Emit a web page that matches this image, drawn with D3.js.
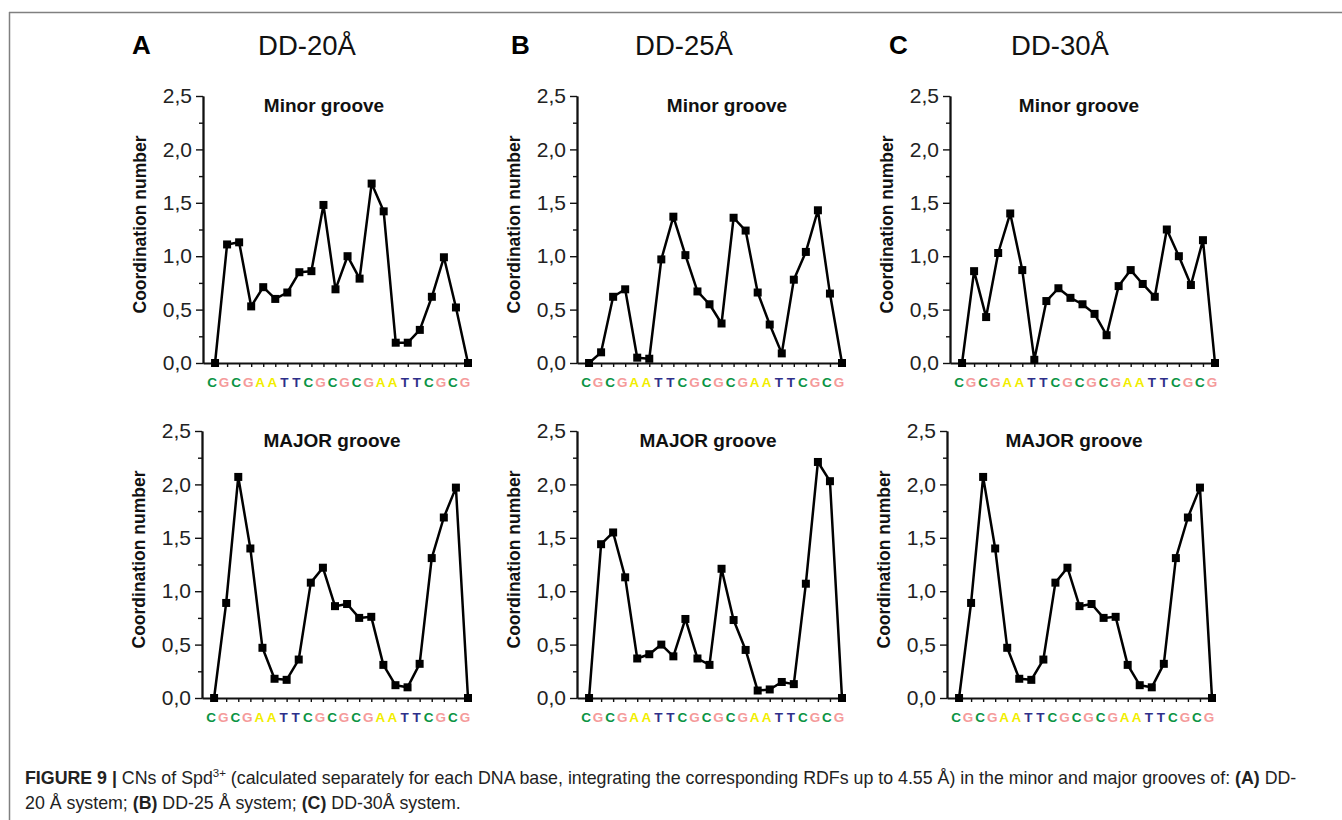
<!DOCTYPE html>
<html>
<head>
<meta charset="utf-8">
<script src="https://cdn.jsdelivr.net/npm/d3@7"></script>
<style>
  body { margin: 0; background: #fff; }
  svg { display: block; font-family: "Liberation Sans", Arial, sans-serif; }
</style>
</head>
<body>
<svg id="fig" width="1342" height="820"></svg>
<script>
// DNA sequence under every panel
const bases = ["C","G","C","G","A","A","T","T","C","G","C","G","C","G","A","A","T","T","C","G","C","G"];
const baseColor = { C: "#0a9444", G: "#f59a9a", A: "#f2ee00", T: "#2e2f8a" };

const yMajorTicks = [0, 0.5, 1.0, 1.5, 2.0, 2.5];
const yMinorTicks = [0.25, 0.75, 1.25, 1.75, 2.25];

// coordination numbers per base
const minor20 = [0.0, 1.11, 1.13, 0.53, 0.71, 0.60, 0.66, 0.85, 0.86, 1.48, 0.69, 1.00, 0.79, 1.68, 1.42, 0.19, 0.19, 0.31, 0.62, 0.99, 0.52, 0.0];
const major20 = [0.0, 0.89, 2.07, 1.40, 0.47, 0.18, 0.17, 0.36, 1.08, 1.22, 0.86, 0.88, 0.75, 0.76, 0.31, 0.12, 0.10, 0.32, 1.31, 1.69, 1.97, 0.0];
const minor25 = [0.0, 0.10, 0.62, 0.69, 0.05, 0.04, 0.97, 1.37, 1.01, 0.67, 0.55, 0.37, 1.36, 1.24, 0.66, 0.36, 0.09, 0.78, 1.04, 1.43, 0.65, 0.0];
const major25 = [0.0, 1.44, 1.55, 1.13, 0.37, 0.41, 0.50, 0.39, 0.74, 0.37, 0.31, 1.21, 0.73, 0.45, 0.07, 0.08, 0.15, 0.13, 1.07, 2.21, 2.03, 0.0];
const minor30 = [0.0, 0.86, 0.43, 1.03, 1.40, 0.87, 0.03, 0.58, 0.70, 0.61, 0.55, 0.46, 0.26, 0.72, 0.87, 0.74, 0.62, 1.25, 1.00, 0.73, 1.15, 0.0];
const major30 = [0.0, 0.89, 2.07, 1.40, 0.47, 0.18, 0.17, 0.36, 1.08, 1.22, 0.86, 0.88, 0.75, 0.76, 0.31, 0.12, 0.10, 0.32, 1.31, 1.69, 1.97, 0.0];

const columnLetters = ["A", "B", "C"];
const columnTitles = ["DD-20Å", "DD-25Å", "DD-30Å"];

const svg = d3.select("#fig");

// frame lines of the figure
svg.append("line").attr("x1", 9).attr("x2", 1342).attr("y1", 12.5).attr("y2", 12.5)
    .attr("stroke", "#808080").attr("stroke-width", 1.5);
svg.append("line").attr("x1", 9.5).attr("x2", 9.5).attr("y1", 12).attr("y2", 820)
    .attr("stroke", "#808080").attr("stroke-width", 1.5);

// layout of the six plots
let plots = [
    { data: minor20, title: "Minor groove", left: 203, right: 468, top: 96, bottom: 363, titleX: 324 },
    { data: major20, title: "MAJOR groove", left: 202, right: 468, top: 431, bottom: 698, titleX: 332 },
    { data: minor25, title: "Minor groove", left: 577, right: 842, top: 96, bottom: 363, titleX: 727 },
    { data: major25, title: "MAJOR groove", left: 577, right: 842, top: 431, bottom: 698, titleX: 708 },
    { data: minor30, title: "Minor groove", left: 950, right: 1215, top: 96, bottom: 363, titleX: 1079 },
    { data: major30, title: "MAJOR groove", left: 947, right: 1212, top: 431, bottom: 698, titleX: 1074 }
];

let colX = [{ letter: 132, title: 307 }, { letter: 511, title: 684 }, { letter: 889, title: 1060 }];
columnLetters.forEach(function(l, i) {
    svg.append("text").attr("x", colX[i].letter).attr("y", 54)
        .attr("font-size", 26).attr("font-weight", "bold").text(l);
    svg.append("text").attr("x", colX[i].title).attr("y", 55)
        .attr("text-anchor", "middle").attr("font-size", 27.5).attr("fill", "#111").text(columnTitles[i]);
});

plots.forEach(function(p) {
    let x = d3.scaleLinear().domain([-1, bases.length - 1]).range([p.left, p.right]);
    let y = d3.scaleLinear().domain([0, 2.5]).range([p.bottom, p.top]);
    let g = svg.append("g");

    // y axis, major and minor ticks
    let ya = g.append("g").attr("transform", `translate(${p.left},0)`)
        .call(d3.axisLeft(y).tickValues(yMajorTicks).tickSize(7).tickSizeOuter(0).tickPadding(4)
            .tickFormat(d => d3.format(".1f")(d).replace(".", ",")));
    g.append("g").attr("transform", `translate(${p.left},0)`)
        .call(d3.axisLeft(y).tickValues(yMinorTicks).tickSize(4).tickSizeOuter(0).tickFormat(""));

    // x axis, one tick per base
    g.append("g").attr("transform", `translate(0,${p.bottom})`)
        .call(d3.axisBottom(x).tickValues(d3.range(bases.length)).tickSize(4).tickSizeOuter(0).tickFormat(""));

    g.selectAll(".domain").attr("stroke", "#111").attr("stroke-width", 1.8);
    g.selectAll(".tick line").attr("stroke", "#111").attr("stroke-width", 1.4);
    ya.selectAll(".tick text").attr("font-size", 21).attr("fill", "#222")
        .attr("font-family", "Liberation Sans, Arial, sans-serif");

    // base letters
    g.selectAll(".base").data(bases).enter().append("text")
        .attr("x", (d, i) => x(i) - 3)
        .attr("y", p.bottom + 24)
        .attr("text-anchor", "middle")
        .attr("font-size", 13.5).attr("font-weight", "bold")
        .attr("fill", d => baseColor[d])
        .text(d => d);

    // line + square markers
    let line = d3.line().x((d, i) => x(i)).y(d => y(d));
    g.append("path").datum(p.data).attr("d", line)
        .attr("fill", "none").attr("stroke", "#000").attr("stroke-width", 2.5)
        .attr("stroke-linejoin", "round");
    g.selectAll(".pt").data(p.data).enter().append("rect")
        .attr("x", (d, i) => x(i) - 4).attr("y", d => y(d) - 4)
        .attr("width", 8).attr("height", 8).attr("fill", "#000");

    g.append("text").attr("x", p.titleX).attr("y", p.top + 16)
        .attr("text-anchor", "middle").attr("font-size", 19).attr("font-weight", "bold")
        .attr("fill", "#111")
        .text(p.title);

    g.append("text")
        .attr("transform", `translate(${p.left - 57},${(p.top + p.bottom) / 2 - 5}) rotate(-90)`)
        .attr("text-anchor", "middle").attr("font-size", 17.5).attr("font-weight", "bold")
        .attr("fill", "#111")
        .text("Coordination number");
});

// caption
let cap1 = svg.append("text").attr("x", 25).attr("y", 784).attr("font-size", 17.8).attr("fill", "#222");
cap1.append("tspan").attr("font-weight", "bold").text("FIGURE 9 | ");
cap1.append("tspan").text("CNs of Spd");
cap1.append("tspan").attr("font-size", 11.5).attr("dy", -7).text("3+");
cap1.append("tspan").attr("dy", 7).text(" (calculated separately for each DNA base, integrating the corresponding RDFs up to 4.55 Å) in the minor and major grooves of: ");
cap1.append("tspan").attr("font-weight", "bold").text("(A)");
cap1.append("tspan").text(" DD-");

let cap2 = svg.append("text").attr("x", 25).attr("y", 809).attr("font-size", 17.8).attr("fill", "#222");
cap2.append("tspan").text("20 Å system; ");
cap2.append("tspan").attr("font-weight", "bold").text("(B)");
cap2.append("tspan").text(" DD-25 Å system; ");
cap2.append("tspan").attr("font-weight", "bold").text("(C)");
cap2.append("tspan").text(" DD-30Å system.");
</script>
</body>
</html>
